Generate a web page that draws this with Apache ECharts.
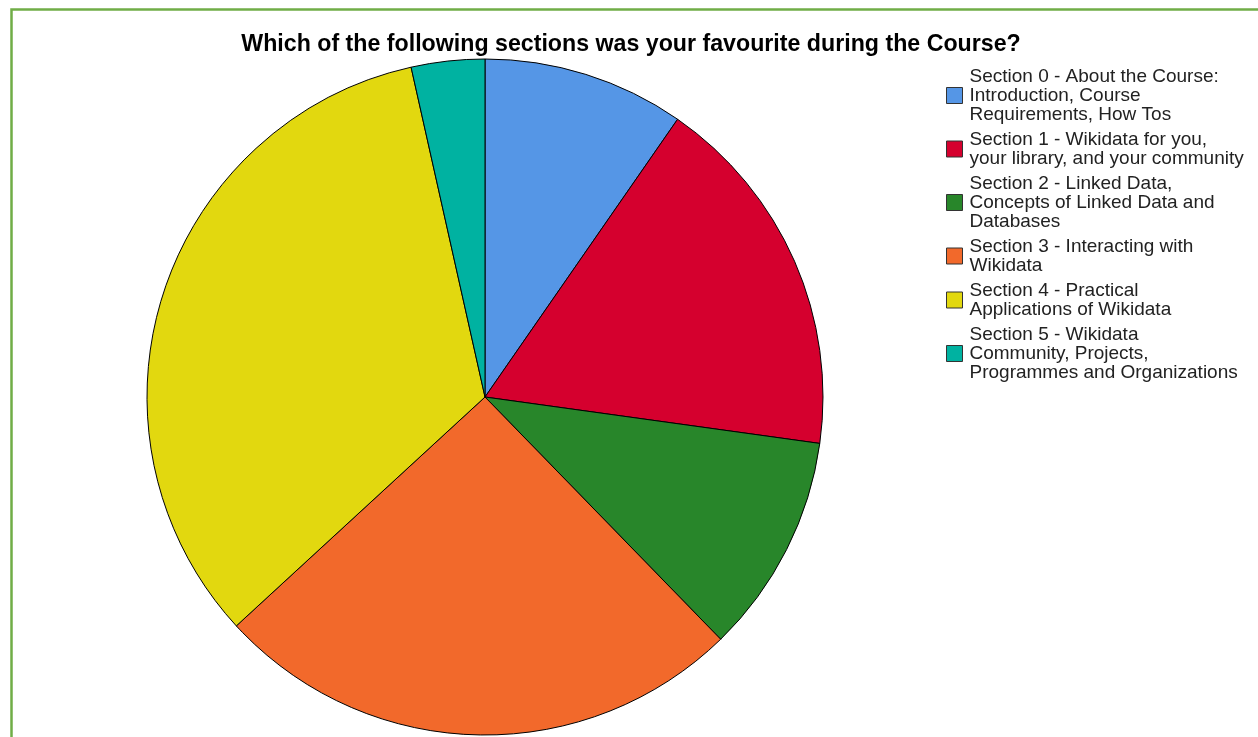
<!DOCTYPE html>
<html><head><meta charset="utf-8">
<script src="https://cdn.jsdelivr.net/npm/echarts@6/dist/echarts.min.js"></script>
<style>html,body{margin:0;padding:0;background:#fff}#c{width:1258px;height:737px}</style>
</head><body><div id="c"></div>
<script>
const titleText = 'Which of the following sections was your favourite during the Course?';
const categories = [
  'Section 0 - About the Course:\nIntroduction, Course\nRequirements, How Tos',
  'Section 1 - Wikidata for you,\nyour library, and your community',
  'Section 2 - Linked Data,\nConcepts of Linked Data and\nDatabases',
  'Section 3 - Interacting with\nWikidata',
  'Section 4 - Practical\nApplications of Wikidata',
  'Section 5 - Wikidata\nCommunity, Projects,\nProgrammes and Organizations'
];
const values = [11, 20, 12, 29, 38, 4];
const colors = ['#5596E6', '#D5002E', '#28862A', '#F2692B', '#E2D80F', '#00B2A1'];

const chart = echarts.init(document.getElementById('c'), null, {renderer: 'canvas'});
chart.setOption({
  backgroundColor: '#fff',
  animation: false,
  graphic: [{
    type: 'rect', left: 9, top: 7, z: 100,
    shape: {width: 1300, height: 800},
    style: {fill: 'none', stroke: '#70AD47', lineWidth: 2.5}
  }],
  title: {
    text: titleText, left: 626, top: 28, textAlign: 'center',
    textStyle: {fontFamily: 'Liberation Sans, Arial', fontSize: 23.2, fontWeight: 'bold', color: '#000'}
  },
  legend: {
    orient: 'vertical', left: 946, top: 67, padding: 0,
    icon: 'rect', itemWidth: 16, itemHeight: 16, itemGap: 6,
    itemStyle: {borderColor: '#333', borderWidth: 1},
    textStyle: {fontFamily: 'Liberation Sans, Arial', fontSize: 19, lineHeight: 19, color: '#222', padding: [0, 0, 0, 2]},
    data: categories
  },
  series: [{
    type: 'pie', center: [485, 397], radius: 338, startAngle: 90, clockwise: true,
    label: {show: false}, labelLine: {show: false},
    itemStyle: {borderColor: '#000', borderWidth: 1},
    emphasis: {disabled: true},
    data: categories.map((n, i) => ({name: n, value: values[i], itemStyle: {color: colors[i]}}))
  }]
});
</script></body></html>
